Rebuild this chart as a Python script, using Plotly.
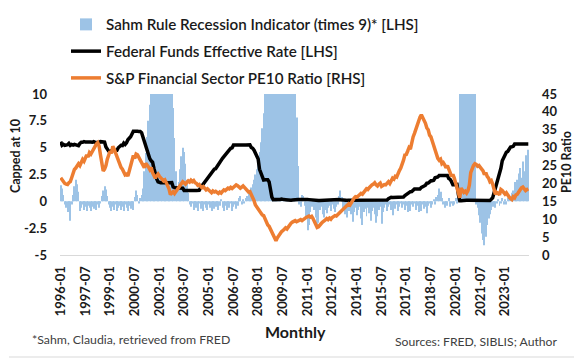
import plotly.graph_objects as go

# ---------------- data (monthly, 1996-01 .. 2024-06) ----------------
start_year = 1996
n_months = 342
months = [f"{start_year + i // 12}-{i % 12 + 1:02d}" for i in range(n_months)]
tick_labels = months[::18]

# Sahm Rule Recession Indicator x 9, capped at 10 [LHS]
sahm_x9 = [
    1.5, 1.2, 0.6, -0.3, -0.6, -1.0, -0.4, -1.8, -0.3, 0.6, 1.4, 2.0,      # 1996
    1.6, 0.9, -0.9, -0.6, -0.3, -0.8, -0.5, -0.9, -0.4, -0.6, -0.9, -0.5,  # 1997
    -0.7, -0.4, -0.8, -0.3, -0.6, -0.2, 0.5, 1.0, 1.4, 1.1, 0.5, -0.3,     # 1998
    -0.6, -0.9, -0.5, -0.8, -0.3, -0.9, -0.6, -0.4, -0.8, -0.5, -0.9, -0.3,  # 1999
    -0.6, -0.9, -0.4, -0.7, -0.3, -0.8, 0.4, 1.0, 0.6, -0.2, 0.3, 0.6,     # 2000
    1.2, 2.8, 4.5, 6.0, 7.5, 9.0, 10, 10, 10, 10, 10, 10,                  # 2001
    10, 10, 10, 10, 10, 10, 10, 10, 10, 10, 8.7, 5.9,                      # 2002
    2.8, 1.2, 1.8, 3.0, 4.2, 5.0, 4.6, 3.5, 2.0, 0.8, -0.3, -0.5,          # 2003
    -0.2, -0.8, -0.3, -0.6, -0.9, -0.2, -0.7, -0.4, -0.9, -0.3, -0.6, -0.8,  # 2004
    -0.3, -0.6, -0.9, -0.2, -0.7, -0.5, -0.3, -0.8, -0.4, 0.2, -0.6, -0.9,   # 2005
    -0.4, -0.8, -0.3, -0.6, -0.2, -0.9, -0.5, -0.3, -0.7, -0.4, 0.3, 0.5,    # 2006
    -0.3, 0.2, -0.2, 0.3, 0.5, 0.8, 1.0, 1.3, 1.6, 2.0, 2.5, 3.0,          # 2007
    3.8, 4.6, 5.5, 6.8, 8.2, 10, 10, 10, 10, 10, 10, 10,                   # 2008
    10, 10, 10, 10, 10, 10, 10, 10, 10, 10, 10, 10,                        # 2009
    10, 10, 10, 10, 7.8, 3.3, -0.3, -0.5, 0.6, 0.5, -0.4, -1.5,            # 2010
    -2.7, -2.2, -1.0, -0.5, -0.3, -0.8, -1.5, -2.5, -2.0, -0.8, -0.5, -1.2,  # 2011
    -1.5, -0.8, -1.1, -0.6, -0.4, -0.9, -0.3, -0.7, -1.0, -0.5, -0.3, 0.5,   # 2012
    1.0, 0.4, -0.8, -1.2, -0.6, -1.5, -0.9, -0.5, -1.2, -1.9, -1.0, -0.6,    # 2013
    -1.3, -0.8, -0.5, -1.6, -2.2, -1.0, -0.7, -1.4, -0.6, -1.1, -1.8, -0.9,  # 2014
    -0.6, -1.2, -2.0, -1.4, -0.8, -0.5, -2.1, -1.0, -0.6, -0.3, -0.9, -0.5,  # 2015
    -0.3, -0.8, -1.3, -0.2, -0.7, -0.3, -0.9, -0.5, -0.2, -0.6, -0.3, -0.8,  # 2016
    -0.4, -1.0, -0.6, -0.9, -0.3, -0.5, -0.2, -0.8, -0.4, -1.0, -0.6, -0.9,  # 2017
    -0.3, -0.7, -0.5, -1.1, -0.4, -0.2, -0.6, -0.3, 0.2, -0.3, 0.4, 0.6,     # 2018
    1.2, 0.9, 0.3, -0.3, -0.6, -0.2, -0.4, 0.3, -0.5, -0.2, -0.4, -0.3,      # 2019
    0.3, -0.2, 0.4, 10, 10, 10, 10, 10, 10, 10, 10, 10,                    # 2020
    10, 10, 10, -0.3, -0.6, -1.3, -2.0, -3.0, -3.6, -4.1, -3.3, -2.2,      # 2021
    -1.6, -1.2, -0.8, -0.5, -0.3, -0.6, -0.2, 0.2, -0.4, -0.2, 0.3, -0.3,  # 2022
    0.2, -0.3, 0.3, 0.5, 0.2, 0.8, 1.0, 1.8, 1.2, 2.0, 2.6, 3.1,           # 2023
    2.2, 3.7, 2.8, 4.3, 3.6, 4.8,                                          # 2024
]

# Federal Funds Effective Rate [LHS]
fed_funds = [
    5.56, 5.22, 5.31, 5.22, 5.24, 5.27, 5.40, 5.22, 5.30, 5.24, 5.31, 5.29,  # 1996
    5.25, 5.19, 5.39, 5.51, 5.50, 5.56, 5.52, 5.54, 5.54, 5.50, 5.52, 5.50,  # 1997
    5.56, 5.51, 5.49, 5.45, 5.49, 5.56, 5.54, 5.55, 5.51, 5.07, 4.83, 4.68,  # 1998
    4.63, 4.76, 4.81, 4.74, 4.74, 4.76, 4.99, 5.07, 5.22, 5.20, 5.42, 5.30,  # 1999
    5.45, 5.73, 5.85, 6.02, 6.27, 6.53, 6.54, 6.50, 6.52, 6.51, 6.51, 6.40,  # 2000
    5.98, 5.49, 5.31, 4.80, 4.21, 3.97, 3.77, 3.65, 3.07, 2.49, 2.09, 1.82,  # 2001
    1.73, 1.74, 1.73, 1.75, 1.75, 1.75, 1.73, 1.74, 1.75, 1.75, 1.34, 1.24,  # 2002
    1.24, 1.26, 1.25, 1.26, 1.26, 1.22, 1.01, 1.03, 1.01, 1.01, 1.00, 0.98,  # 2003
    1.00, 1.01, 1.00, 1.00, 1.00, 1.03, 1.26, 1.43, 1.61, 1.76, 1.93, 2.16,  # 2004
    2.28, 2.50, 2.63, 2.79, 3.00, 3.04, 3.26, 3.50, 3.62, 3.78, 4.00, 4.16,  # 2005
    4.29, 4.49, 4.59, 4.79, 4.94, 4.99, 5.24, 5.25, 5.25, 5.25, 5.25, 5.24,  # 2006
    5.25, 5.26, 5.26, 5.25, 5.25, 5.25, 5.26, 5.02, 4.94, 4.76, 4.49, 4.24,  # 2007
    3.94, 2.98, 2.61, 2.28, 1.98, 2.00, 2.01, 2.00, 1.81, 0.97, 0.39, 0.16,  # 2008
    0.15, 0.22, 0.18, 0.15, 0.18, 0.21, 0.16, 0.16, 0.15, 0.12, 0.12, 0.12,  # 2009
    0.11, 0.13, 0.16, 0.20, 0.20, 0.18, 0.18, 0.19, 0.19, 0.19, 0.19, 0.18,  # 2010
    0.17, 0.16, 0.14, 0.10, 0.09, 0.09, 0.07, 0.10, 0.08, 0.07, 0.08, 0.07,  # 2011
    0.08, 0.10, 0.13, 0.14, 0.16, 0.16, 0.16, 0.13, 0.14, 0.16, 0.16, 0.16,  # 2012
    0.14, 0.15, 0.14, 0.15, 0.11, 0.09, 0.09, 0.08, 0.08, 0.09, 0.08, 0.09,  # 2013
    0.07, 0.07, 0.08, 0.09, 0.09, 0.10, 0.09, 0.09, 0.09, 0.09, 0.09, 0.12,  # 2014
    0.11, 0.11, 0.11, 0.12, 0.12, 0.13, 0.13, 0.14, 0.14, 0.12, 0.12, 0.24,  # 2015
    0.34, 0.38, 0.36, 0.37, 0.37, 0.38, 0.39, 0.40, 0.40, 0.40, 0.41, 0.54,  # 2016
    0.65, 0.66, 0.79, 0.90, 0.91, 1.04, 1.15, 1.16, 1.15, 1.15, 1.16, 1.30,  # 2017
    1.41, 1.42, 1.51, 1.69, 1.70, 1.82, 1.91, 1.91, 1.95, 2.19, 2.20, 2.27,  # 2018
    2.40, 2.40, 2.41, 2.42, 2.39, 2.38, 2.40, 2.13, 2.04, 1.83, 1.55, 1.55,  # 2019
    1.55, 1.58, 0.65, 0.05, 0.05, 0.08, 0.09, 0.10, 0.09, 0.09, 0.09, 0.09,  # 2020
    0.09, 0.08, 0.07, 0.07, 0.06, 0.08, 0.10, 0.09, 0.08, 0.08, 0.08, 0.08,  # 2021
    0.08, 0.08, 0.20, 0.33, 0.77, 1.21, 1.68, 2.33, 2.56, 3.08, 3.78, 4.10,  # 2022
    4.33, 4.57, 4.65, 4.83, 5.06, 5.08, 5.12, 5.33, 5.33, 5.33, 5.33, 5.33,  # 2023
    5.33, 5.33, 5.33, 5.33, 5.33, 5.33,                                      # 2024
]

# S&P Financial Sector PE10 Ratio [RHS]
pe10 = [
    21.6, 21.0, 20.4, 20.0, 19.8, 19.7, 20.2, 20.5, 21.6, 22.8, 23.9, 24.3,  # 1996
    24.8, 25.5, 25.0, 26.0, 26.7, 26.2, 27.3, 28.0, 27.4, 28.6, 28.2, 29.0,  # 1997
    29.5, 30.2, 31.0, 31.4, 30.5, 28.0, 25.5, 23.5, 24.0, 25.0, 26.8, 28.0,  # 1998
    29.0, 28.4, 30.4, 29.6, 28.5, 27.2, 26.0, 25.3, 24.5, 24.0, 23.2, 22.4,  # 1999
    22.6, 22.1, 23.5, 25.0, 26.3, 27.8, 27.0, 28.2, 28.0, 27.2, 26.7, 25.5,  # 2000
    25.0, 24.4, 25.6, 25.2, 24.6, 23.9, 24.5, 23.0, 22.3, 21.5, 22.1, 22.6,  # 2001
    22.0, 21.6, 21.2, 20.7, 21.0, 20.1, 19.8, 18.5, 16.9, 17.5, 17.7, 17.2,  # 2002
    17.8, 18.4, 19.0, 19.6, 20.0, 20.5, 20.2, 19.8, 20.3, 20.7, 20.4, 20.9,  # 2003
    20.5, 20.8, 20.2, 20.0, 19.5, 19.7, 19.2, 18.8, 19.1, 18.6, 18.2, 18.5,  # 2004
    18.0, 17.7, 17.4, 17.9, 17.6, 17.8, 17.5, 17.2, 17.6, 17.3, 17.8, 18.2,  # 2005
    18.0, 18.4, 18.7, 18.5, 18.9, 18.6, 19.0, 19.3, 19.6, 19.4, 19.1, 18.7,  # 2006
    19.0, 19.3, 18.9, 18.5, 18.0, 17.6, 17.7, 17.0, 16.0, 15.2, 14.0, 13.5,  # 2007
    12.8, 12.3, 11.6, 11.2, 11.0, 10.0, 9.5, 8.4, 8.0, 7.2, 6.5, 5.5,        # 2008
    4.4, 4.0, 4.8, 5.5, 6.0, 6.5, 6.8, 7.2, 7.6, 7.3, 8.0, 8.5,              # 2009
    8.9, 9.2, 9.4, 9.6, 9.3, 9.5, 9.8, 9.9, 9.6, 10.0, 10.2, 10.5,           # 2010
    10.7, 10.9, 10.6, 10.8, 10.2, 9.5, 8.6, 7.7, 7.9, 8.5, 8.8, 9.2,         # 2011
    9.4, 9.8, 10.2, 9.9, 10.3, 10.0, 10.5, 10.7, 11.0, 10.9, 11.3, 11.8,     # 2012
    12.0, 12.5, 13.0, 13.1, 13.6, 14.1, 14.3, 14.0, 14.8, 15.4, 15.9, 16.3,  # 2013
    16.2, 16.5, 16.9, 17.2, 17.0, 17.7, 18.0, 18.5, 18.3, 18.8, 19.4, 19.6,  # 2014
    19.8, 20.2, 19.6, 19.3, 19.8, 20.1, 19.2, 19.5, 19.7, 19.6, 20.3, 20.5,  # 2015
    20.0, 20.7, 21.5, 21.2, 22.0, 21.8, 23.0, 23.6, 24.3, 25.2, 26.5, 28.0,  # 2016
    28.1, 29.0, 30.0, 29.6, 31.8, 33.0, 34.0, 35.2, 36.4, 37.5, 38.5, 39.2,  # 2017
    38.5, 37.5, 36.8, 35.5, 35.0, 33.5, 33.0, 31.8, 30.5, 29.0, 28.0, 27.0,  # 2018
    26.5, 26.8, 25.5, 25.8, 25.2, 24.4, 25.0, 24.2, 23.0, 22.0, 22.5, 21.5,  # 2019
    20.0, 18.8, 17.7, 16.0, 18.7, 18.0, 17.5, 17.8, 17.3, 18.0, 19.5, 23.0,  # 2020
    24.3, 25.0, 25.5, 25.3, 24.8, 25.0, 24.5, 24.0, 23.5, 22.5, 23.0, 22.0,  # 2021
    21.5, 20.5, 20.8, 19.8, 18.5, 17.0, 17.5, 17.3, 16.8, 18.3, 18.0, 17.5,  # 2022
    17.0, 17.4, 16.5, 16.2, 15.8, 15.5, 16.3, 16.0, 16.8, 17.0, 17.6, 18.5,  # 2023
    18.8, 19.0, 18.5, 18.0, 18.3, 18.5,                                      # 2024
]

left_ticks = [10, 7.5, 5, 2.5, 0, -2.5, -5]
left_tick_text = ["10", "7.5", "5", "2.5", "0", "-2.5", "-5"]
right_ticks = [0, 5, 10, 15, 20, 25, 30, 35, 40, 45]

# ---------------- figure ----------------
FONT = "Lato, 'Open Sans', sans-serif"
W, H = 583, 361
OFF = 8                      # default page margin of the html body
PL, PT, PW, PH = 60, 94, 469, 161   # plot area in window pixels
L, T = PL - OFF, PT - OFF
R, B = W - L - PW, H - T - PH
TXT = "#1a1a1a"

fig = go.Figure()
fig.add_trace(go.Bar(
    x=months, y=sahm_x9, name="Sahm Rule Recession Indicator (times 9)* [LHS]",
    marker=dict(color="#9DC3E6", line=dict(width=0)), legendgroup="a"))
fig.add_trace(go.Scatter(
    x=months, y=fed_funds, name="Federal Funds Effective Rate [LHS]",
    mode="lines", line=dict(color="#000000", width=3.5), legendgroup="b"))
fig.add_trace(go.Scatter(
    x=months, y=pe10, name="S&P Financial Sector PE10 Ratio [RHS]", yaxis="y2",
    mode="lines", line=dict(color="#ED7D31", width=3.5), legendgroup="c"))

def px_x(px):   # window pixel -> paper x
    return (px - PL) / PW

def px_y(py):   # window pixel -> paper y
    return (PT + PH - py) / PH

fig.update_layout(
    width=W, height=H,
    margin=dict(l=L, r=R, t=T, b=B, autoexpand=False),
    paper_bgcolor="white", plot_bgcolor="white",
    font=dict(family=FONT, color=TXT),
    bargap=0.3,
    showlegend=True,
    legend=dict(x=px_x(66), y=px_y(8), xanchor="left", yanchor="top",
                orientation="v", tracegroupgap=4,
                font=dict(size=15.2, color=TXT, family=FONT, weight=600),
                bgcolor="rgba(0,0,0,0)", itemwidth=30),
    xaxis=dict(type="category", range=[-0.5, n_months - 0.5], automargin=False,
               tickmode="array", tickvals=tick_labels, ticktext=tick_labels,
               tickangle=-90, tickfont=dict(size=13, color=TXT, family=FONT, weight=700),
               showline=True, linecolor="#D9D9D9", linewidth=1,
               showgrid=False, zeroline=False, ticks="", ticklabelstandoff=5),
    yaxis=dict(range=[-5, 10], tickvals=left_ticks, ticktext=left_tick_text, automargin=False,
               tickfont=dict(size=13, color=TXT, family=FONT, weight=700),
               showgrid=False, zeroline=False, showline=False, ticks="",
               ticklabelstandoff=12),
    yaxis2=dict(range=[0, 45], tickvals=right_ticks, overlaying="y", side="right",
                automargin=False,
                tickfont=dict(size=13, color=TXT, family=FONT, weight=700),
                showgrid=False, zeroline=False, showline=False, ticks="",
                ticklabelstandoff=12),
    annotations=[
        dict(text="<b>Capped at 10</b>", textangle=-90, xref="paper", yref="paper",
             x=px_x(15), y=px_y(156), xanchor="center", yanchor="middle",
             showarrow=False, font=dict(size=12.5, color=TXT, family=FONT)),
        dict(text="<b>PE10 Ratio</b>", textangle=-90, xref="paper", yref="paper",
             x=px_x(566), y=px_y(162), xanchor="center", yanchor="middle",
             showarrow=False, font=dict(size=12.5, color=TXT, family=FONT)),
        dict(text="<b>Monthly</b>", xref="paper", yref="paper",
             x=px_x(295.5), y=px_y(331), xanchor="center", yanchor="middle",
             showarrow=False, font=dict(size=16, color=TXT, family=FONT)),
        dict(text="*Sahm, Claudia, retrieved from FRED", xref="paper", yref="paper",
             x=px_x(30), y=px_y(339), xanchor="left", yanchor="middle", showarrow=False,
             font=dict(size=12.3, color="#404040", family=FONT)),
        dict(text="Sources: FRED, SIBLIS; Author", xref="paper", yref="paper",
             x=px_x(393), y=px_y(341), xanchor="left", yanchor="middle", showarrow=False,
             font=dict(size=12.2, color="#404040", family=FONT)),
    ],
    shapes=[
        dict(type="line", xref="paper", yref="paper",
             x0=px_x(9), x1=px_x(574), y0=px_y(357), y1=px_y(357),
             line=dict(color="#D9D9D9", width=1)),
    ],
)

fig.write_html("out.html")
